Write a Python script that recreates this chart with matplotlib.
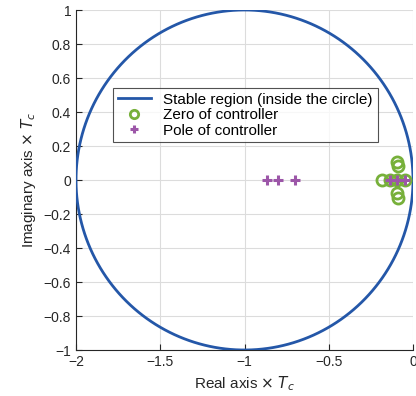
import numpy as np
import matplotlib.pyplot as plt

plt.rcParams['font.family'] = ['Liberation Sans', 'DejaVu Sans']

# controller zeros (real, imag) * Tc
zero_re = [-0.182, -0.136, -0.093, -0.048, -0.093, -0.087, -0.093, -0.087]
zero_im = [0.0, 0.0, 0.0, 0.0, 0.108, 0.082, -0.078, -0.108]
# controller poles
pole_re = [-0.868, -0.799, -0.700, -0.136, -0.093, -0.048]
pole_im = [0.0, 0.0, 0.0, 0.0, 0.0, 0.0]

theta = np.linspace(0, 2 * np.pi, 400)
cx = -1 + np.cos(theta)
cy = np.sin(theta)

fig = plt.figure(figsize=(4.16, 3.96), dpi=100)
ax = fig.add_axes([76 / 416, 46 / 396, 337 / 416, 340 / 396])

ax.plot(cx, cy, color='#2457A8', lw=2, label='Stable region (inside the circle)', zorder=3)
ax.plot(zero_re, zero_im, 'o', ls='none', mfc='none', mec='#77B03A', mew=2, ms=8,
        label='Zero of controller', zorder=4)
ax.plot(pole_re, pole_im, '+', ls='none', color='#9C56A8', mew=2.2, ms=7,
        label='Pole of controller', zorder=5)

ax.set_xlim(-2, 0)
ax.set_ylim(-1, 1)
ax.set_xticks([-2, -1.5, -1, -0.5, 0])
ax.set_xticklabels(['\u22122', '\u22121.5', '\u22121', '\u22120.5', '0'])
yt = [-1, -0.8, -0.6, -0.4, -0.2, 0, 0.2, 0.4, 0.6, 0.8, 1]
ax.set_yticks(yt)
ax.set_yticklabels([('\u2212' + f'{abs(v):g}') if v < 0 else f'{v:g}' for v in yt])
ax.grid(True, color='#DCDCDC', lw=0.8)
ax.set_axisbelow(True)
ax.tick_params(labelsize=10, colors='#262626', direction='in', length=4)
for s in ['top', 'right']:
    ax.spines[s].set_visible(False)
for s in ['left', 'bottom']:
    ax.spines[s].set_color('#262626')

ax.set_xlabel(r'Real axis $\times$ $T_c$', fontsize=11, color='#262626')
ax.set_ylabel(r'Imaginary axis $\times$ $T_c$', fontsize=11, color='#262626')

leg = ax.legend(loc='upper left', bbox_to_anchor=(0.11, 0.77), fontsize=11,
                frameon=True, fancybox=False, edgecolor='#262626', borderpad=0.3,
                labelspacing=0.1, handlelength=2.2, borderaxespad=0, markerscale=0.75)
leg.get_frame().set_linewidth(0.8)

fig.savefig('out.png', dpi=100)
